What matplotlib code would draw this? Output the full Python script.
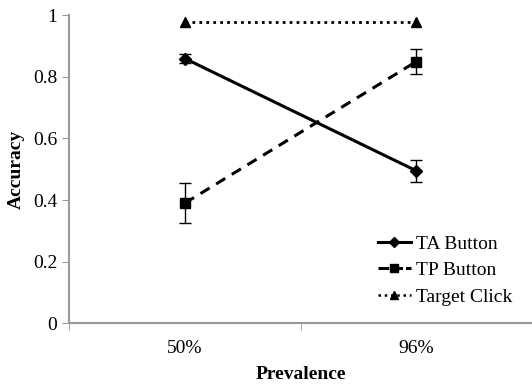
import matplotlib.pyplot as plt
from matplotlib.lines import Line2D

plt.rcParams['font.family'] = ['Liberation Serif', 'DejaVu Serif']

categories = ['50%', '96%']
ta_button = [0.86, 0.495]
ta_err = [0.015, 0.035]
tp_button = [0.39, 0.85]
tp_err = [0.065, 0.04]
target_click = [0.98, 0.98]

fig, ax = plt.subplots(figsize=(5.32, 3.86), dpi=100)
fig.subplots_adjust(left=0.13, right=1.0, top=0.96, bottom=0.163)

x = [0, 1]
ax.errorbar(x, ta_button, yerr=ta_err, color='black', lw=2.2, marker='D', ms=6,
            capsize=4, elinewidth=1, capthick=1)
ax.errorbar(x, tp_button, yerr=tp_err, color='black', lw=2.2, ls=(0, (3.5, 2.5)),
            marker='s', ms=7, capsize=4, elinewidth=1, capthick=1)
ax.plot(x, target_click, color='black', lw=2, ls=(0, (1, 1.5)), marker='^', ms=7)

ax.set_xlim(-0.5, 1.5)
ax.set_ylim(0, 1)
ax.set_xticks(x)
ax.set_xticklabels(categories)
ax.set_xticks([-0.5, 0.5, 1.5], minor=True)
ax.set_yticks([0, 0.2, 0.4, 0.6, 0.8, 1])
ax.set_yticklabels(['0', '0.2', '0.4', '0.6', '0.8', '1'])
ax.tick_params(axis='x', which='major', length=0, labelsize=14, pad=12)
ax.tick_params(axis='x', which='minor', length=5, color='#999999')
ax.tick_params(axis='y', length=5, color='#999999', labelsize=14)

for side in ['top', 'right']:
    ax.spines[side].set_visible(False)
for side in ['left', 'bottom']:
    ax.spines[side].set_color('#999999')
    ax.spines[side].set_linewidth(1.5)

ax.set_xlabel('Prevalence', fontweight='bold', fontsize=14, labelpad=7)
ax.set_ylabel('Accuracy', fontweight='bold', fontsize=14, labelpad=6)

handles = [
    Line2D([], [], color='black', lw=2.2, marker='D', ms=5),
    Line2D([], [], color='black', lw=2.2, ls=(0, (3.5, 1)), marker='s', ms=6),
    Line2D([], [], color='black', lw=1.8, ls=(0, (1, 1.5)), marker='^', ms=6),
]
ax.legend(handles, ['TA Button', 'TP Button', 'Target Click'], loc='lower right',
          frameon=False, fontsize=14, handlelength=1.7, handletextpad=0.25,
          labelspacing=0.45, bbox_to_anchor=(0.995, 0.0))

fig.savefig('out.png')
